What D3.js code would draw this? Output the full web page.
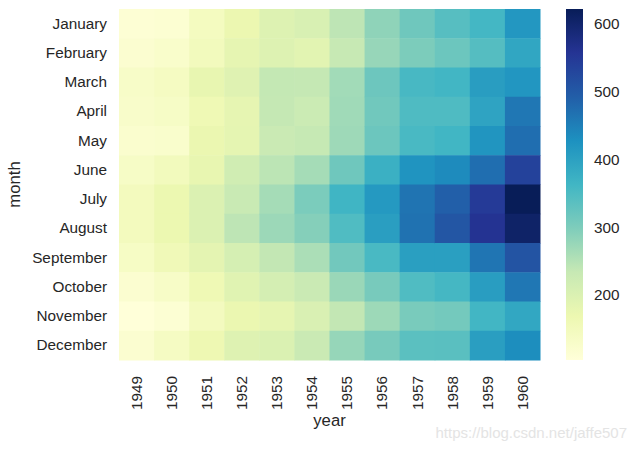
<!DOCTYPE html>
<html>
<head>
<meta charset="utf-8">
<script src="https://cdn.jsdelivr.net/npm/d3@7"></script>
<style>
  body { margin: 0; background: #fff; }
  text { font-family: "Liberation Sans", Arial, sans-serif; fill: #262626; }
</style>
</head>
<body>
<svg width="637" height="450"></svg>
<script>
var months = ["January","February","March","April","May","June","July","August","September","October","November","December"];
var years = ["1949","1950","1951","1952","1953","1954","1955","1956","1957","1958","1959","1960"];
// passengers per year, January..December
var y1949 = [112,118,132,129,121,135,148,148,136,119,104,118];
var y1950 = [115,126,141,135,125,149,170,170,158,133,114,140];
var y1951 = [145,150,178,163,172,178,199,199,184,162,146,166];
var y1952 = [171,180,193,181,183,218,230,242,209,191,172,194];
var y1953 = [196,196,236,235,229,243,264,272,237,211,180,201];
var y1954 = [204,188,235,227,234,264,302,293,259,229,203,229];
var y1955 = [242,233,267,269,270,315,364,347,312,274,237,278];
var y1956 = [284,277,317,313,318,374,413,405,355,306,271,306];
var y1957 = [315,301,356,348,355,422,465,467,404,347,305,336];
var y1958 = [340,318,362,348,363,435,491,505,404,359,310,337];
var y1959 = [360,342,406,396,420,472,548,559,463,407,362,405];
var y1960 = [417,391,419,461,472,535,622,606,508,461,390,432];
var cbTicks = [200,300,400,500,600];

var series = [y1949,y1950,y1951,y1952,y1953,y1954,y1955,y1956,y1957,y1958,y1959,y1960];

var svg = d3.select("svg"),
    margin = {top: 9, left: 119},
    width = 421,
    height = 351;

var x = d3.scaleBand().domain(years).range([0, width]),
    y = d3.scaleBand().domain(months).range([0, height]);

var vmin = d3.min(series, function(s) { return d3.min(s); }),
    vmax = d3.max(series, function(s) { return d3.max(s); });

var ylgnbu = ["#ffffd9","#edf8b1","#c7e9b4","#7fcdbb","#41b6c4","#1d91c0","#225ea8","#253494","#081d58"];
var color = d3.scaleLinear()
    .domain(ylgnbu.map(function(c, i) { return vmin + (vmax - vmin) * i / (ylgnbu.length - 1); }))
    .range(ylgnbu)
    .interpolate(d3.interpolateRgb);

var cells = [];
series.forEach(function(s, i) {
    s.forEach(function(v, j) { cells.push({year: years[i], month: months[j], value: v}); });
});

var g = svg.append("g")
    .attr("transform", "translate(" + margin.left + "," + margin.top + ")");

g.selectAll("rect.cell")
    .data(cells)
    .enter().append("rect")
    .attr("class", "cell")
    .attr("x", function(d) { return x(d.year); })
    .attr("y", function(d) { return y(d.month); })
    .attr("width", x.bandwidth() + 0.5)
    .attr("height", y.bandwidth() + 0.5)
    .attr("fill", function(d) { return color(d.value); });

// y axis labels
var yAxis = g.append("g")
    .call(d3.axisLeft(y).tickSize(0).tickPadding(12));
yAxis.select(".domain").remove();
yAxis.selectAll("text").style("font-size", "15.3px").style("fill", "#262626");

// x axis labels
var xAxis = g.append("g")
    .attr("transform", "translate(0," + height + ")")
    .call(d3.axisBottom(x).tickSize(0));
xAxis.select(".domain").remove();
xAxis.selectAll("text")
    .style("font-size", "15.3px")
    .style("fill", "#262626")
    .attr("transform", "rotate(-90)")
    .attr("text-anchor", "end")
    .attr("x", -16)
    .attr("y", 0)
    .attr("dy", "0.35em");

svg.append("text")
    .attr("x", margin.left + width / 2)
    .attr("y", 426)
    .attr("text-anchor", "middle")
    .style("font-size", "16.7px")
    .text("year");

svg.append("text")
    .attr("transform", "rotate(-90)")
    .attr("x", -(margin.top + height / 2))
    .attr("y", 20)
    .attr("text-anchor", "middle")
    .style("font-size", "16.7px")
    .text("month");

// colorbar
var cbX = 566, cbW = 17;
var cy = d3.scaleLinear().domain([vmin, vmax]).range([margin.top + height, margin.top]);
var defs = svg.append("defs");
var grad = defs.append("linearGradient")
    .attr("id", "cbgrad")
    .attr("x1", 0).attr("y1", 1).attr("x2", 0).attr("y2", 0);
ylgnbu.forEach(function(c, i) {
    grad.append("stop").attr("offset", i / (ylgnbu.length - 1)).attr("stop-color", c);
});
svg.append("rect")
    .attr("x", cbX)
    .attr("y", margin.top)
    .attr("width", cbW)
    .attr("height", height)
    .attr("fill", "url(#cbgrad)");

var cAxis = svg.append("g")
    .attr("transform", "translate(" + (cbX + cbW) + ",0)")
    .call(d3.axisRight(cy).tickValues(cbTicks).tickSize(0).tickPadding(11));
cAxis.select(".domain").remove();
cAxis.selectAll("text").style("font-size", "15.3px").style("fill", "#262626");

// watermark
svg.append("text")
    .attr("x", 627)
    .attr("y", 438)
    .attr("text-anchor", "end")
    .style("font-size", "15px")
    .style("fill", "#e4e4e4")
    .text("https://blog.csdn.net/jaffe507");
</script>
</body>
</html>
